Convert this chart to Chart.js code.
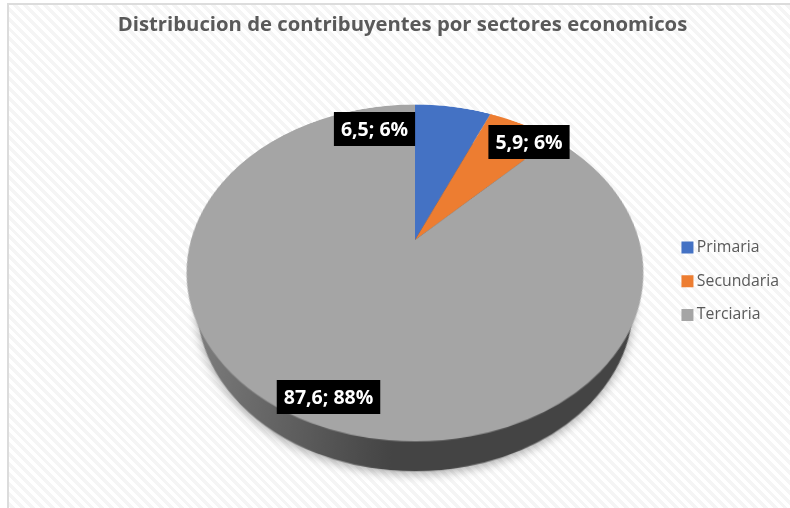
<!DOCTYPE html>
<html>
<head>
<meta charset="utf-8">
<script src="https://cdn.jsdelivr.net/npm/chart.js@4/dist/chart.umd.min.js"></script>
<style>
  html, body { margin: 0; padding: 0; background: #fff; overflow: hidden; }
  #stage { position: relative; width: 790px; height: 508px; overflow: hidden; }
  #backdrop {
    position: absolute; left: 7px; top: 3px; width: 790px; height: 520px;
    box-sizing: border-box; border: 2px solid #dcdcdc;
    background: repeating-linear-gradient(45deg, #fff 0, #fff 3.5px, #f5f5f5 3.5px, #f5f5f5 7px);
  }
  /* the pie lies on a tilted plane, apex of the slices at the canvas centre */
  .disc { position: absolute; left: 165px; top: -10px; width: 500px; height: 500px; transform-origin: 50% 50%; }
  #topDisc { transform: perspective(790px) rotateX(43.7deg); }
  #wallDisc { transform: perspective(790px) rotateX(43.7deg) translateZ(-50px); filter: drop-shadow(0 3px 4px rgba(0,0,0,.3)); }
  #overlay { position: absolute; left: 0; top: 0; width: 790px; height: 508px; }
</style>
</head>
<body>
<div id="stage">
  <div id="backdrop"></div>
  <div id="wallDisc" class="disc"><canvas id="wallChart" width="500" height="500"></canvas></div>
  <div id="topDisc" class="disc"><canvas id="pieChart" width="500" height="500"></canvas></div>
  <div id="overlay"><canvas id="overlayChart" width="790" height="508"></canvas></div>
</div>
<script>
var categories = ["Primaria", "Secundaria", "Terciaria"];
var values = [6.5, 5.9, 87.6];
var percents = [6, 6, 88]; // as printed on the chart
var sliceColors = ["#4472C4", "#ED7D31", "#A5A5A5"];
var titleText = "Distribucion de contribuyentes por sectores economicos";

// where the black value boxes sit (centres, in page pixels)
var labelCentres = [[374.5, 129], [529, 142], [328.5, 397]];

var discRadius = 224;

function discOptions() {
  return {
    responsive: false,
    animation: false,
    events: [],
    layout: { padding: 0 },
    plugins: { legend: { display: false }, title: { display: false }, tooltip: { enabled: false } }
  };
}

new Chart(document.getElementById("wallChart"), {
  type: "pie",
  data: {
    labels: categories,
    datasets: [{
      data: values,
      radius: discRadius,
      borderWidth: 0,
      backgroundColor: function (context) {
        var g = context.chart.ctx.createLinearGradient(30, 0, 230, 0);
        g.addColorStop(0, "#808080");
        g.addColorStop(1, "#444444");
        return g;
      }
    }]
  },
  options: discOptions()
});

new Chart(document.getElementById("pieChart"), {
  type: "pie",
  data: {
    labels: categories,
    datasets: [{ data: values, radius: discRadius, borderWidth: 0, backgroundColor: sliceColors }]
  },
  options: discOptions()
});

function sliceLabel(i) {
  return String(values[i]).replace(".", ",") + "; " + percents[i] + "%";
}

var valueBoxes = {
  id: "valueBoxes",
  afterDraw: function (chart) {
    var ctx = chart.ctx;
    ctx.save();
    ctx.font = "bold 19.5px 'Open Sans'";
    ctx.textAlign = "center";
    ctx.textBaseline = "middle";
    for (var i = 0; i < values.length; i++) {
      var txt = sliceLabel(i);
      var w = ctx.measureText(txt).width + 14;
      var c = labelCentres[i];
      ctx.fillStyle = "#000";
      ctx.fillRect(c[0] - w / 2, c[1] - 17, w, 34);
      ctx.fillStyle = "#fff";
      ctx.fillText(txt, c[0], c[1] + 1);
    }
    ctx.restore();
  }
};

// title, legend and value boxes, the slices themselves are on the tilted canvas
new Chart(document.getElementById("overlayChart"), {
  type: "pie",
  data: {
    labels: categories,
    datasets: [{ data: values, radius: 0, borderWidth: 0, backgroundColor: sliceColors }]
  },
  options: {
    responsive: false,
    animation: false,
    events: [],
    layout: { padding: { left: 16, right: 1 } },
    plugins: {
      tooltip: { enabled: false },
      title: {
        display: true,
        text: titleText,
        color: "#595959",
        font: { family: "'Open Sans'", size: 20.3, weight: "bold" },
        padding: { top: 13, bottom: 17 }
      },
      legend: {
        position: "right",
        fullSize: false,
        labels: {
          color: "#595959",
          font: { family: "'Open Sans'", size: 15.8 },
          usePointStyle: true,
          pointStyle: "rect",
          boxWidth: 3,
          boxHeight: 12,
          padding: 18
        }
      }
    }
  },
  plugins: [valueBoxes]
});
</script>
</body>
</html>
